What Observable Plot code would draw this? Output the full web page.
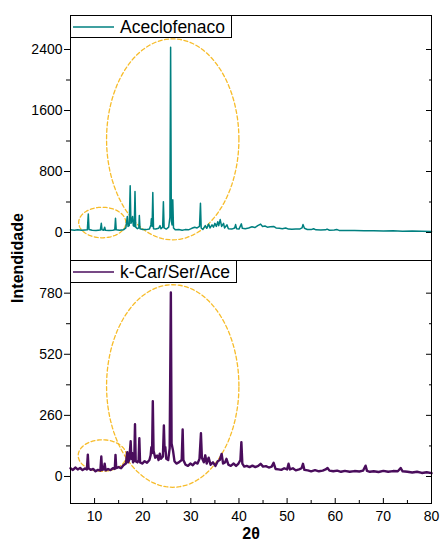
<!DOCTYPE html>
<html>
<head>
<meta charset="utf-8">
<script src="https://cdn.jsdelivr.net/npm/d3@7"></script>
<script src="https://cdn.jsdelivr.net/npm/@observablehq/plot@0.6"></script>
<style>
  html, body { margin: 0; padding: 0; background: white; }
  #wrap { position: relative; width: 440px; height: 546px; font-family: "Liberation Sans", Arial, sans-serif; }
  #wrap svg { display: block; }
  .legend { position: absolute; box-sizing: border-box; border: 1px solid #000; background: #fff; height: 23px; }
  .legend svg { position: absolute; left: 0; top: 0; }
  .legend span { position: absolute; left: 49px; top: 1px; font-size: 17.5px; line-height: 20px; color: #000; white-space: nowrap; }
  #ylab { position: absolute; left: 18px; top: 258px; transform: translate(-50%, -50%) rotate(-90deg); font-weight: bold; font-size: 16px; white-space: nowrap; }
</style>
</head>
<body>
<div id="wrap"></div>
<script>
// ---- Data ----
const seriesNames = ["Aceclofenaco", "k-Car/Ser/Ace"];
const seriesColors = ["#008080", "#4a0d5c"];
const yAxisLabel = "Intendidade";
const xAxisLabel = "2θ";

const xTicksMajor = [10, 20, 30, 40, 50, 60, 70, 80];
const xTicksMinor = [15, 25, 35, 45, 55, 65, 75];
const topTicksMajor = [0, 800, 1600, 2400];
const topTicksMinor = [400, 1200, 2000];
const botTicksMajor = [0, 260, 520, 780];
const botTicksMinor = [130, 390, 650];

const aceTheta = [5.0,5.8,6.5,7.3,8.0,8.5,8.7,8.85,9.5,10.3,11.2,11.4,11.55,11.9,12.1,12.25,13.0,13.8,14.2,14.35,14.5,15.2,16.0,16.5,16.8,16.95,17.2,17.4,17.55,17.75,17.9,18.05,18.25,18.4,18.55,18.9,19.2,19.3,19.45,20.0,20.7,21.4,21.7,21.8,21.95,22.1,22.25,22.7,23.3,23.6,23.8,24.15,24.3,24.45,24.9,25.4,25.65,25.8,25.95,26.1,26.25,26.4,26.8,27.5,28.2,28.8,29.5,30.2,30.8,31.3,31.8,32.0,32.15,32.5,33.0,33.3,33.7,34.0,34.4,34.7,35.0,35.3,35.6,35.8,36.1,36.4,36.8,37.0,37.5,37.8,38.5,39.1,39.3,39.5,40.0,40.5,40.7,41.3,42.0,42.7,43.3,43.9,44.5,44.9,45.4,45.9,46.5,47.2,47.7,48.4,49.0,49.7,50.3,51.0,51.8,52.6,53.1,53.3,53.6,54.2,55.0,55.5,56.0,57.0,58.0,58.3,58.8,59.8,60.3,60.8,62.0,64.0,66.0,68.0,70.0,72.0,74.0,76.0,78.0,80.0];
const aceInt = [35,30,36,30,33,35,244,40,30,28,32,121,35,30,70,30,28,30,35,187,35,30,35,60,209,80,90,613,120,150,210,90,80,539,70,50,60,222,50,40,38,45,100,180,80,526,50,45,55,90,50,70,405,60,45,70,200,2431,150,100,430,60,35,40,30,38,35,55,70,60,80,383,60,40,90,55,110,60,100,70,120,80,140,90,170,80,120,60,100,50,45,60,104,50,45,113,55,50,60,75,65,90,110,80,85,70,75,80,60,55,50,60,45,42,45,45,60,104,55,40,38,50,35,32,35,45,30,32,40,28,25,26,22,24,20,22,18,20,16,13];

const kcsTheta = [5.0,5.5,6.0,6.5,7.0,7.5,8.0,8.4,8.6,8.75,9.2,9.7,10.2,10.7,11.2,11.4,11.55,11.9,12.1,12.3,12.8,13.3,13.8,14.2,14.35,14.5,15.0,15.5,16.0,16.5,16.8,16.95,17.2,17.5,17.65,17.8,18.0,18.25,18.4,18.55,18.9,19.15,19.3,19.45,19.9,20.4,20.9,21.4,21.65,21.8,21.95,22.1,22.25,22.6,23.0,23.3,23.55,23.8,24.2,24.4,24.55,24.7,24.9,25.3,25.6,25.85,26.0,26.3,26.6,27.0,27.5,28.1,28.3,28.45,28.9,29.4,29.9,30.4,30.9,31.4,31.8,32.1,32.3,32.7,33.0,33.3,33.7,34.1,34.6,35.1,35.6,36.0,36.4,36.7,37.1,37.4,37.8,38.3,38.9,39.4,39.9,40.3,40.5,40.7,41.1,41.6,42.2,42.8,43.4,44.0,44.5,45.0,45.6,46.2,46.8,47.2,47.6,48.2,48.8,49.4,50.0,50.3,50.6,51.2,51.8,52.5,53.0,53.3,53.6,54.3,55.0,55.8,56.6,57.4,58.0,58.4,58.8,59.6,60.4,61.2,62.0,63.0,64.0,65.0,65.8,66.3,66.6,67.2,68.0,69.0,70.0,71.0,72.0,73.0,73.6,74.0,75.0,76.0,77.0,78.0,79.0,80.0];
const kcsInt = [35,28,38,30,36,27,34,30,93,35,28,32,22,28,25,85,28,30,54,26,32,27,35,32,92,36,40,35,48,55,103,60,70,150,75,100,60,70,222,65,60,70,163,60,55,65,58,70,90,125,100,320,110,80,89,70,97,75,85,217,110,125,75,70,120,783,140,110,65,55,60,70,200,70,50,45,55,48,60,55,75,184,80,60,90,55,80,50,60,45,65,70,96,55,60,75,50,45,55,45,55,70,146,55,42,45,40,46,40,45,54,42,44,38,42,58,32,30,28,35,30,54,30,35,26,30,35,54,28,26,22,27,22,25,30,36,25,22,25,20,24,20,23,21,25,46,24,20,22,19,24,20,23,22,36,22,20,17,20,15,18,14];

// Highlight ellipses (centre and radii in data units)
const topEllipses = [
  { cx: 26.24, cy: 1222, rx: 13.75, ry: 1318 },
  { cx: 11.6, cy: 131, rx: 4.9, ry: 200 }
];
const botEllipses = [
  { cx: 26.24, cy: 385, rx: 13.75, ry: 431 },
  { cx: 11.6, cy: 89, rx: 5.0, ry: 67 }
];

// ---- Build ----
const aceData = aceTheta.map((t, i) => ({ t, v: aceInt[i] }));
const kcsData = kcsTheta.map((t, i) => ({ t, v: kcsInt[i] }));
const angles = d3.range(0, 361, 3).map(a => a * Math.PI / 180);
const ellipsePts = (list) => list.flatMap((e, k) => angles.map(a => ({ k, x: e.cx + e.rx * Math.cos(a), y: e.cy + e.ry * Math.sin(a) })));

const ellipseStyle = { stroke: "#F7BC2A", strokeWidth: 1.3, strokeDasharray: "4,2.5", z: "k" };
const fontFamily = '"Liberation Sans", Arial, sans-serif';
const plain = d => String(d);

function yAxes(major, minor) {
  return [
    Plot.axisY({ anchor: "left", ticks: major, tickSize: 6, tickPadding: 2, fontSize: 14, tickFormat: plain, label: null }),
    Plot.axisY({ anchor: "left", ticks: minor, tickSize: 4, tickFormat: () => "", label: null }),
    Plot.axisY({ anchor: "right", ticks: major, tickSize: 6, dx: -6, tickFormat: () => "", label: null }),
    Plot.axisY({ anchor: "right", ticks: minor, tickSize: 3, dx: -3, tickFormat: () => "", label: null })
  ];
}

const topPlot = Plot.plot({
  width: 440, height: 260,
  marginTop: 15, marginBottom: 0, marginLeft: 70, marginRight: 9,
  style: { fontFamily, fontSize: "14px", color: "#000", background: "white" },
  x: { domain: [5, 80], axis: null },
  y: { domain: [-367, 2846] },
  marks: [
    ...yAxes(topTicksMajor, topTicksMinor),
    Plot.line(ellipsePts(topEllipses), { x: "x", y: "y", ...ellipseStyle }),
    Plot.line(aceData, { x: "t", y: "v", stroke: seriesColors[0], strokeWidth: 1.5 }),
    Plot.frame({ stroke: "#000", strokeWidth: 1 })
  ]
});

const botPlot = Plot.plot({
  width: 440, height: 286,
  marginTop: 0, marginBottom: 43, marginLeft: 70, marginRight: 9,
  style: { fontFamily, fontSize: "14px", color: "#000", background: "white" },
  x: { domain: [5, 80] },
  y: { domain: [-115, 919] },
  marks: [
    ...yAxes(botTicksMajor, botTicksMinor),
    Plot.axisX({ anchor: "bottom", ticks: xTicksMajor, tickSize: 0, tickPadding: 8, fontSize: 14, tickFormat: plain, label: null }),
    Plot.axisX({ anchor: "bottom", ticks: xTicksMajor, tickSize: 5, dy: -5, tickFormat: () => "", label: null }),
    Plot.axisX({ anchor: "bottom", ticks: xTicksMinor, tickSize: 3, dy: -3, tickFormat: () => "", label: null }),
    Plot.line(ellipsePts(botEllipses), { x: "x", y: "y", ...ellipseStyle }),
    Plot.line(kcsData, { x: "t", y: "v", stroke: seriesColors[1], strokeWidth: 2.4 }),
    Plot.text([xAxisLabel], { frameAnchor: "bottom", dy: 35, lineAnchor: "bottom", fontWeight: "bold", fontSize: 16, fill: "#000" }),
    Plot.frame({ stroke: "#000", strokeWidth: 1 })
  ]
});

const wrap = document.getElementById("wrap");
wrap.appendChild(topPlot);
wrap.appendChild(botPlot);

function addLegend(name, color, left, top, width) {
  const box = document.createElement("div");
  box.className = "legend";
  box.style.left = left + "px";
  box.style.top = top + "px";
  box.style.width = width + "px";
  box.innerHTML = `<svg width="48" height="21"><line x1="2" x2="43" y1="11" y2="11" stroke="${color}" stroke-width="1.5"/></svg><span>${name}</span>`;
  wrap.appendChild(box);
}
addLegend(seriesNames[0], seriesColors[0], 70, 15, 162);
addLegend(seriesNames[1], seriesColors[1], 70, 260, 167);

const yl = document.createElement("div");
yl.id = "ylab";
yl.textContent = yAxisLabel;
wrap.appendChild(yl);
</script>
</body>
</html>
